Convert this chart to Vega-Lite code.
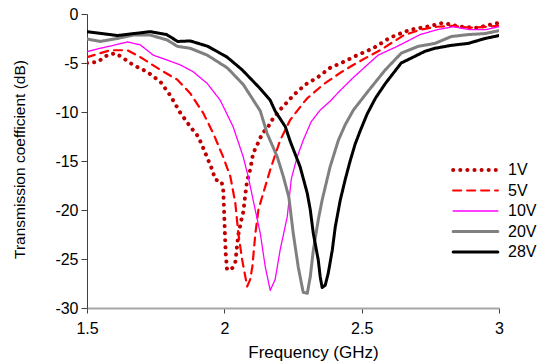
{
  "$schema": "https://vega.github.io/schema/vega-lite/v6.json",
  "width": 412,
  "height": 294,
  "autosize": {"type": "none"},
  "padding": {"left": 87, "top": 14, "right": 39, "bottom": 56},
  "background": "white",
  "config": {
    "view": {"stroke": null},
    "font": "Liberation Sans",
    "axis": {"grid": false, "labelFont": "Liberation Sans", "titleFont": "Liberation Sans", "labelColor": "#000", "titleColor": "#000", "titleFontWeight": "normal"}
  },
  "data": {"values": [
    {"f":1.50,"dB":-5.0,"s":"1V"},{"f":1.5375,"dB":-4.9,"s":"1V"},{"f":1.574,"dB":-4.2,"s":"1V"},{"f":1.603,"dB":-4.0,"s":"1V"},{"f":1.632,"dB":-4.5,"s":"1V"},{"f":1.668,"dB":-5.2,"s":"1V"},{"f":1.719,"dB":-5.9,"s":"1V"},{"f":1.767,"dB":-6.9,"s":"1V"},{"f":1.803,"dB":-8.3,"s":"1V"},{"f":1.84,"dB":-10.1,"s":"1V"},{"f":1.876,"dB":-11.5,"s":"1V"},{"f":1.905,"dB":-12.5,"s":"1V"},{"f":1.931,"dB":-14.2,"s":"1V"},{"f":1.956,"dB":-15.9,"s":"1V"},{"f":1.967,"dB":-16.9,"s":"1V"},{"f":1.99,"dB":-17.1,"s":"1V"},{"f":1.996,"dB":-18.0,"s":"1V"},{"f":1.999,"dB":-20.0,"s":"1V"},{"f":2.002,"dB":-22.4,"s":"1V"},{"f":2.005,"dB":-24.4,"s":"1V"},{"f":2.01,"dB":-26.1,"s":"1V"},{"f":2.022,"dB":-26.1,"s":"1V"},{"f":2.03,"dB":-25.9,"s":"1V"},{"f":2.04,"dB":-25.3,"s":"1V"},{"f":2.047,"dB":-23.5,"s":"1V"},{"f":2.051,"dB":-22.5,"s":"1V"},{"f":2.062,"dB":-21.0,"s":"1V"},{"f":2.069,"dB":-20.2,"s":"1V"},{"f":2.076,"dB":-18.5,"s":"1V"},{"f":2.083,"dB":-17.0,"s":"1V"},{"f":2.094,"dB":-15.9,"s":"1V"},{"f":2.105,"dB":-14.2,"s":"1V"},{"f":2.124,"dB":-13.1,"s":"1V"},{"f":2.138,"dB":-12.2,"s":"1V"},{"f":2.16,"dB":-11.5,"s":"1V"},{"f":2.174,"dB":-10.8,"s":"1V"},{"f":2.211,"dB":-9.5,"s":"1V"},{"f":2.229,"dB":-9.0,"s":"1V"},{"f":2.251,"dB":-8.3,"s":"1V"},{"f":2.295,"dB":-7.2,"s":"1V"},{"f":2.338,"dB":-6.5,"s":"1V"},{"f":2.385,"dB":-5.5,"s":"1V"},{"f":2.433,"dB":-4.9,"s":"1V"},{"f":2.484,"dB":-4.2,"s":"1V"},{"f":2.542,"dB":-3.5,"s":"1V"},{"f":2.604,"dB":-2.4,"s":"1V"},{"f":2.677,"dB":-1.6,"s":"1V"},{"f":2.738,"dB":-1.3,"s":"1V"},{"f":2.797,"dB":-0.9,"s":"1V"},{"f":2.858,"dB":-1.3,"s":"1V"},{"f":2.92,"dB":-1.4,"s":"1V"},{"f":3.0,"dB":-0.9,"s":"1V"},

    {"f":1.50,"dB":-4.4,"s":"5V"},{"f":1.548,"dB":-4.0,"s":"5V"},{"f":1.585,"dB":-3.7,"s":"5V"},{"f":1.647,"dB":-3.7,"s":"5V"},{"f":1.694,"dB":-4.4,"s":"5V"},{"f":1.767,"dB":-5.7,"s":"5V"},{"f":1.829,"dB":-6.7,"s":"5V"},{"f":1.876,"dB":-8.1,"s":"5V"},{"f":1.923,"dB":-10.1,"s":"5V"},{"f":1.96,"dB":-12.2,"s":"5V"},{"f":1.996,"dB":-14.6,"s":"5V"},{"f":2.022,"dB":-16.6,"s":"5V"},{"f":2.04,"dB":-19.3,"s":"5V"},{"f":2.051,"dB":-22.4,"s":"5V"},{"f":2.065,"dB":-25.1,"s":"5V"},{"f":2.083,"dB":-27.8,"s":"5V"},{"f":2.094,"dB":-27.1,"s":"5V"},{"f":2.102,"dB":-25.8,"s":"5V"},{"f":2.113,"dB":-22.4,"s":"5V"},{"f":2.124,"dB":-20.0,"s":"5V"},{"f":2.131,"dB":-19.3,"s":"5V"},{"f":2.167,"dB":-15.9,"s":"5V"},{"f":2.203,"dB":-12.9,"s":"5V"},{"f":2.24,"dB":-10.8,"s":"5V"},{"f":2.287,"dB":-9.1,"s":"5V"},{"f":2.302,"dB":-8.6,"s":"5V"},{"f":2.36,"dB":-7.2,"s":"5V"},{"f":2.422,"dB":-6.0,"s":"5V"},{"f":2.469,"dB":-5.2,"s":"5V"},{"f":2.52,"dB":-4.4,"s":"5V"},{"f":2.567,"dB":-3.7,"s":"5V"},{"f":2.651,"dB":-2.2,"s":"5V"},{"f":2.713,"dB":-1.6,"s":"5V"},{"f":2.775,"dB":-1.3,"s":"5V"},{"f":2.833,"dB":-1.2,"s":"5V"},{"f":2.895,"dB":-1.4,"s":"5V"},{"f":2.957,"dB":-1.3,"s":"5V"},{"f":3.0,"dB":-1.2,"s":"5V"},

    {"f":1.50,"dB":-3.85,"s":"10V"},{"f":1.548,"dB":-3.5,"s":"10V"},{"f":1.596,"dB":-3.2,"s":"10V"},{"f":1.647,"dB":-2.85,"s":"10V"},{"f":1.694,"dB":-3.15,"s":"10V"},{"f":1.741,"dB":-4.2,"s":"10V"},{"f":1.792,"dB":-4.7,"s":"10V"},{"f":1.84,"dB":-5.2,"s":"10V"},{"f":1.887,"dB":-5.9,"s":"10V"},{"f":1.938,"dB":-7.1,"s":"10V"},{"f":1.985,"dB":-8.8,"s":"10V"},{"f":2.032,"dB":-11.5,"s":"10V"},{"f":2.069,"dB":-14.6,"s":"10V"},{"f":2.087,"dB":-16.6,"s":"10V"},{"f":2.105,"dB":-19.0,"s":"10V"},{"f":2.131,"dB":-22.4,"s":"10V"},{"f":2.149,"dB":-25.8,"s":"10V"},{"f":2.167,"dB":-28.2,"s":"10V"},{"f":2.185,"dB":-27.1,"s":"10V"},{"f":2.203,"dB":-24.1,"s":"10V"},{"f":2.229,"dB":-20.7,"s":"10V"},{"f":2.244,"dB":-16.8,"s":"10V"},{"f":2.265,"dB":-14.6,"s":"10V"},{"f":2.287,"dB":-12.9,"s":"10V"},{"f":2.316,"dB":-11.0,"s":"10V"},{"f":2.349,"dB":-9.8,"s":"10V"},{"f":2.385,"dB":-8.9,"s":"10V"},{"f":2.422,"dB":-7.8,"s":"10V"},{"f":2.469,"dB":-6.5,"s":"10V"},{"f":2.52,"dB":-5.2,"s":"10V"},{"f":2.56,"dB":-4.2,"s":"10V"},{"f":2.622,"dB":-3.4,"s":"10V"},{"f":2.651,"dB":-3.0,"s":"10V"},{"f":2.713,"dB":-2.1,"s":"10V"},{"f":2.775,"dB":-1.6,"s":"10V"},{"f":2.833,"dB":-1.3,"s":"10V"},{"f":2.895,"dB":-1.6,"s":"10V"},{"f":2.95,"dB":-1.6,"s":"10V"},{"f":3.0,"dB":-1.3,"s":"10V"},

    {"f":1.50,"dB":-2.55,"s":"20V"},{"f":1.548,"dB":-2.8,"s":"20V"},{"f":1.61,"dB":-2.5,"s":"20V"},{"f":1.668,"dB":-2.15,"s":"20V"},{"f":1.73,"dB":-2.15,"s":"20V"},{"f":1.792,"dB":-2.65,"s":"20V"},{"f":1.829,"dB":-3.3,"s":"20V"},{"f":1.876,"dB":-3.5,"s":"20V"},{"f":1.938,"dB":-4.2,"s":"20V"},{"f":2.011,"dB":-5.5,"s":"20V"},{"f":2.069,"dB":-7.2,"s":"20V"},{"f":2.131,"dB":-9.9,"s":"20V"},{"f":2.156,"dB":-12.2,"s":"20V"},{"f":2.193,"dB":-14.6,"s":"20V"},{"f":2.215,"dB":-16.6,"s":"20V"},{"f":2.235,"dB":-18.7,"s":"20V"},{"f":2.251,"dB":-22.4,"s":"20V"},{"f":2.269,"dB":-25.8,"s":"20V"},{"f":2.287,"dB":-28.4,"s":"20V"},{"f":2.302,"dB":-28.5,"s":"20V"},{"f":2.313,"dB":-26.8,"s":"20V"},{"f":2.324,"dB":-24.1,"s":"20V"},{"f":2.342,"dB":-21.0,"s":"20V"},{"f":2.356,"dB":-19.0,"s":"20V"},{"f":2.385,"dB":-15.6,"s":"20V"},{"f":2.415,"dB":-12.9,"s":"20V"},{"f":2.44,"dB":-11.3,"s":"20V"},{"f":2.47,"dB":-9.8,"s":"20V"},{"f":2.52,"dB":-8.0,"s":"20V"},{"f":2.586,"dB":-5.7,"s":"20V"},{"f":2.644,"dB":-4.0,"s":"20V"},{"f":2.706,"dB":-3.3,"s":"20V"},{"f":2.767,"dB":-3.0,"s":"20V"},{"f":2.826,"dB":-2.3,"s":"20V"},{"f":2.888,"dB":-2.1,"s":"20V"},{"f":2.949,"dB":-2.0,"s":"20V"},{"f":3.0,"dB":-1.7,"s":"20V"},

    {"f":1.50,"dB":-1.8,"s":"28V"},{"f":1.585,"dB":-2.1,"s":"28V"},{"f":1.61,"dB":-2.2,"s":"28V"},{"f":1.67,"dB":-2.0,"s":"28V"},{"f":1.73,"dB":-1.8,"s":"28V"},{"f":1.79,"dB":-2.1,"s":"28V"},{"f":1.83,"dB":-2.8,"s":"28V"},{"f":1.876,"dB":-2.75,"s":"28V"},{"f":1.94,"dB":-3.3,"s":"28V"},{"f":2.01,"dB":-4.4,"s":"28V"},{"f":2.065,"dB":-5.7,"s":"28V"},{"f":2.13,"dB":-7.6,"s":"28V"},{"f":2.167,"dB":-8.8,"s":"28V"},{"f":2.185,"dB":-9.9,"s":"28V"},{"f":2.222,"dB":-11.5,"s":"28V"},{"f":2.24,"dB":-13.0,"s":"28V"},{"f":2.276,"dB":-15.6,"s":"28V"},{"f":2.302,"dB":-18.3,"s":"28V"},{"f":2.313,"dB":-20.0,"s":"28V"},{"f":2.324,"dB":-22.4,"s":"28V"},{"f":2.342,"dB":-25.1,"s":"28V"},{"f":2.349,"dB":-26.8,"s":"28V"},{"f":2.356,"dB":-27.9,"s":"28V"},{"f":2.367,"dB":-27.7,"s":"28V"},{"f":2.378,"dB":-26.5,"s":"28V"},{"f":2.393,"dB":-24.1,"s":"28V"},{"f":2.404,"dB":-21.7,"s":"28V"},{"f":2.422,"dB":-19.0,"s":"28V"},{"f":2.44,"dB":-16.9,"s":"28V"},{"f":2.458,"dB":-15.0,"s":"28V"},{"f":2.476,"dB":-13.3,"s":"28V"},{"f":2.495,"dB":-11.9,"s":"28V"},{"f":2.52,"dB":-10.2,"s":"28V"},{"f":2.55,"dB":-8.6,"s":"28V"},{"f":2.586,"dB":-7.1,"s":"28V"},{"f":2.644,"dB":-5.0,"s":"28V"},{"f":2.695,"dB":-4.3,"s":"28V"},{"f":2.731,"dB":-3.8,"s":"28V"},{"f":2.767,"dB":-3.5,"s":"28V"},{"f":2.826,"dB":-3.2,"s":"28V"},{"f":2.888,"dB":-3.0,"s":"28V"},{"f":2.949,"dB":-2.5,"s":"28V"},{"f":3.0,"dB":-2.2,"s":"28V"}
  ]},
  "mark": {"type": "line", "strokeCap": "round", "strokeJoin": "round", "clip": true},
  "encoding": {
    "x": {"field": "f", "type": "quantitative",
      "scale": {"domain": [1.5, 3], "nice": false, "zero": false},
      "axis": {"title": "Frequency (GHz)", "values": [1.5, 2, 2.5, 3], "format": "~g",
        "labelFontSize": 16, "titleFontSize": 17, "labelPadding": 7, "titlePadding": 8, "titleX": 226,
        "domainColor": "#A6A6A6", "domainWidth": 2, "tickColor": "#404040", "tickSize": 5, "labelFlush": false}},
    "y": {"field": "dB", "type": "quantitative",
      "scale": {"domain": [-30, 0], "nice": false, "zero": false},
      "axis": {"title": "Transmission coefficient (dB)", "values": [0, -5, -10, -15, -20, -25, -30], "format": "d",
        "labelExpr": "replace(datum.label, '\u2212', '-')",
        "labelFontSize": 16, "titleFontSize": 15.5, "labelPadding": 3, "titleX": -60, "titleY": 145,
        "domainColor": "#404040", "domainWidth": 1, "tickColor": "#404040", "tickSize": 6, "labelFlush": false}},
    "color": {"field": "s", "type": "nominal",
      "scale": {"domain": ["1V", "5V", "10V", "20V", "28V"], "range": ["#C00000", "#FF0000", "#FF00FF", "#808080", "#000000"]},
      "legend": {"title": null, "orient": "none", "legendX": 364, "legendY": 148, "symbolType": "stroke", "symbolSize": 2000,
        "clipHeight": 16, "rowPadding": 4.5, "labelFontSize": 16, "labelOffset": 8, "labelColor": "#000",
        "encode": {"symbols": {"update": {"strokeCap": {"value": "round"}}}}}},
    "strokeDash": {"field": "s", "type": "nominal",
      "scale": {"domain": ["1V", "5V", "10V", "20V", "28V"], "range": [[0.1, 7], [8, 6], [1, 0], [1, 0], [1, 0]]},
      "legend": {"title": null, "orient": "none", "legendX": 364, "legendY": 148, "symbolType": "stroke", "symbolSize": 2000,
        "clipHeight": 16, "rowPadding": 4.5, "labelFontSize": 16, "labelOffset": 8, "labelColor": "#000",
        "encode": {"symbols": {"update": {"strokeCap": {"value": "round"}}}}}},
    "strokeWidth": {"field": "s", "type": "nominal",
      "scale": {"type": "ordinal", "domain": ["1V", "5V", "10V", "20V", "28V"], "range": [4, 2.2, 1.3, 3, 3]},
      "legend": {"title": null, "orient": "none", "legendX": 364, "legendY": 148, "symbolType": "stroke", "symbolSize": 2000,
        "clipHeight": 16, "rowPadding": 4.5, "labelFontSize": 16, "labelOffset": 8, "labelColor": "#000",
        "encode": {"symbols": {"update": {"strokeCap": {"value": "round"}}}}}}
  }
}
